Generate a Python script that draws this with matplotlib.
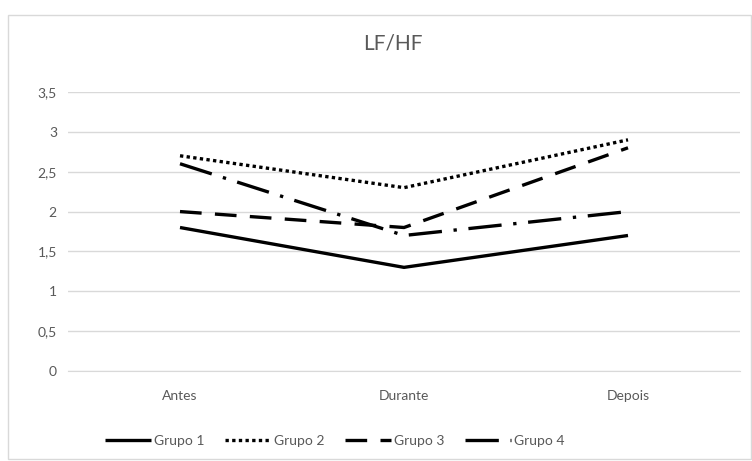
import matplotlib.pyplot as plt
from matplotlib.patches import Rectangle

categories = ["Antes", "Durante", "Depois"]
grupo1 = [1.8, 1.3, 1.7]
grupo2 = [2.7, 2.3, 2.9]
grupo3 = [2.0, 1.8, 2.8]
grupo4 = [2.6, 1.7, 2.0]
series_names = ["Grupo 1", "Grupo 2", "Grupo 3", "Grupo 4"]
yticks = [0, 0.5, 1, 1.5, 2, 2.5, 3, 3.5]
ytick_labels = ["0", "0,5", "1", "1,5", "2", "2,5", "3", "3,5"]

plt.rcParams["font.family"] = ["Lato", "DejaVu Sans"]
grey = "#595959"

fig = plt.figure(figsize=(7.52, 4.61), dpi=100)
fig.patches.append(Rectangle((8 / 752, 2 / 461), 743 / 752, 444 / 461,
                             transform=fig.transFigure, fill=False,
                             edgecolor="#d9d9d9", linewidth=1))
ax = fig.add_axes([68 / 752, 1 - 371 / 461, 672 / 752, 279 / 461])

styles = [
    dict(linestyle="-"),
    dict(linestyle=(0, (1, 1))),
    dict(linestyle=(0, (6.5, 4))),
    dict(linestyle=(0, (10, 3.5, 1, 3.5))),
]
x = range(len(categories))
for values, name, st in zip([grupo1, grupo2, grupo3, grupo4], series_names, styles):
    ax.plot(x, values, color="black", linewidth=2.4, label=name,
            dash_capstyle="butt", solid_capstyle="butt", **st)

ax.set_xlim(-0.5, 2.5)
ax.set_ylim(0, 3.5)
ax.set_yticks(yticks)
ax.set_yticklabels(ytick_labels)
ax.set_xticks(list(x))
ax.set_xticklabels(categories)
ax.yaxis.grid(True, color="#d9d9d9", linewidth=1)
ax.set_axisbelow(True)
for side in ["top", "right", "left"]:
    ax.spines[side].set_visible(False)
ax.spines["bottom"].set_color("#d9d9d9")
ax.tick_params(axis="both", length=0, labelsize=10, colors=grey, pad=8)
ax.tick_params(axis="x", pad=14)

fig.text(0.522, 1 - 43 / 461, "LF/HF", ha="center", va="center",
         fontsize=15, color=grey)

fig.legend(loc="center", bbox_to_anchor=(0.445, 1 - 441 / 461), ncol=4,
           frameon=False, fontsize=10, handlelength=3.3, handletextpad=0.2,
           columnspacing=1.5, labelcolor=grey)

fig.savefig("out.png", dpi=100)
